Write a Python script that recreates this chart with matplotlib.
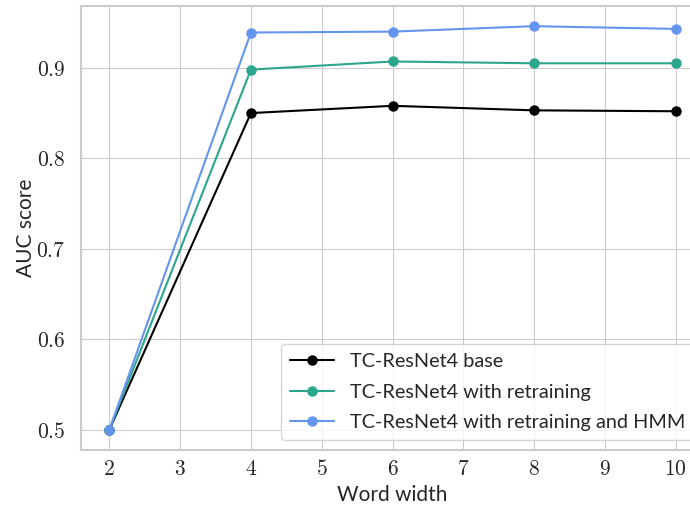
import numpy as np
import matplotlib.pyplot as plt
import seaborn as sns
from matplotlib.ticker import FuncFormatter

# word widths and AUC scores
word_width = [2, 4, 6, 8, 10]
auc_base = [0.5, 0.850, 0.858, 0.853, 0.852]
auc_retrain = [0.5, 0.898, 0.907, 0.905, 0.905]
auc_hmm = [0.5, 0.939, 0.940, 0.946, 0.943]

labels = ['TC-ResNet4 base',
          'TC-ResNet4 with retraining',
          'TC-ResNet4 with retraining and HMM']
colors = ['black', '#2CA58D', '#6495ED']

sns.set_style('whitegrid')
plt.rcParams['font.family'] = ['Lato', 'DejaVu Sans']
plt.rcParams['mathtext.fontset'] = 'cm'

fig = plt.figure(figsize=(6.9, 5.11), dpi=100)
ax = fig.add_axes([81 / 690, 61 / 511, 623 / 690, 444 / 511])

for vals, lab, c in zip([auc_base, auc_retrain, auc_hmm], labels, colors):
    ax.plot(word_width, vals, '-o', color=c, label=lab, lw=1.5, ms=6.5)

ax.set_xticks(range(2, 11))
ax.set_yticks([0.5, 0.6, 0.7, 0.8, 0.9])
ax.xaxis.set_major_formatter(FuncFormatter(lambda v, p: f'${v:g}$'))
ax.yaxis.set_major_formatter(FuncFormatter(lambda v, p: f'${v:.1f}$'))
ax.tick_params(labelsize=15.5, colors='#262626')
ax.tick_params(axis='x', pad=3)
ax.tick_params(axis='y', pad=8)
ax.set_xlabel('Word width', fontsize=15, color='#262626', labelpad=4)
ax.set_ylabel('AUC score', fontsize=15, color='#262626', labelpad=0)
for s in ax.spines.values():
    s.set_color('#cccccc')
    s.set_linewidth(1.5)

ax.legend(loc='lower right', fontsize=14.3, framealpha=0.8,
          handlelength=2.2, borderaxespad=0.5, labelspacing=0.68,
          borderpad=0.45)

fig.savefig('out.png', dpi=100)
